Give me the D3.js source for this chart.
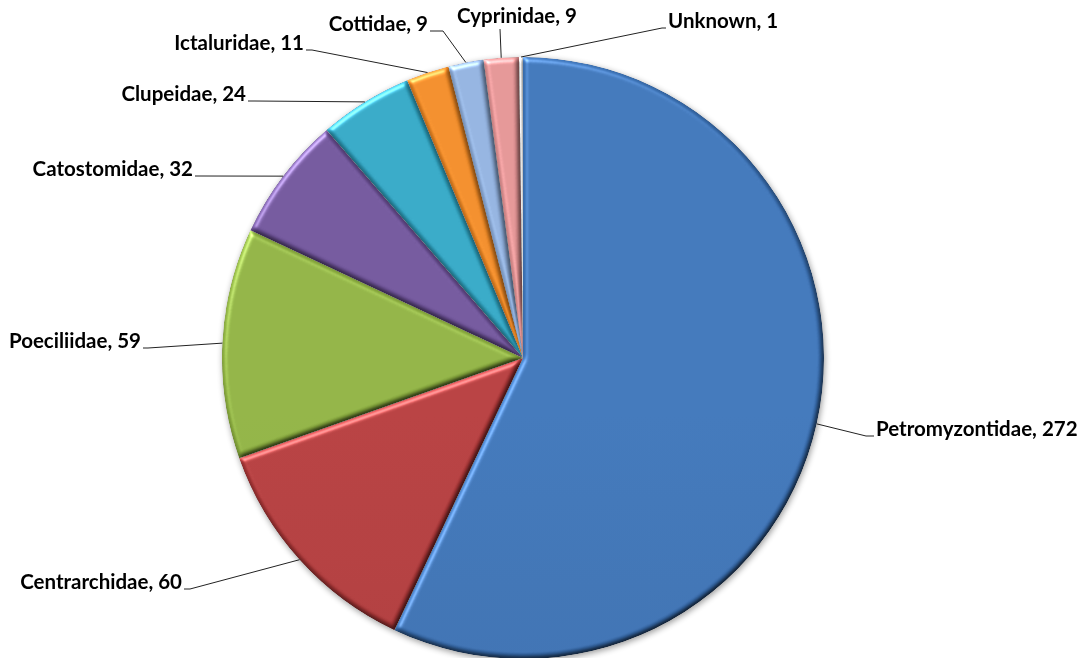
<!DOCTYPE html>
<html>
<head>
<meta charset="utf-8">
<script src="https://cdn.jsdelivr.net/npm/d3@7"></script>
<style>
  html, body { margin: 0; padding: 0; background: #fff; }
  svg { display: block; }
  .lbl { font-family: Lato, "Open Sans", sans-serif; font-weight: 700; font-size: 20.5px; fill: #000; }
</style>
</head>
<body>
<svg id="chart" width="1087" height="658"></svg>
<script>
// Fish families and counts, drawn clockwise from 12 o'clock
const families = ["Petromyzontidae", "Centrarchidae", "Poeciliidae", "Catostomidae",
                  "Clupeidae", "Ictaluridae", "Cottidae", "Cyprinidae", "Unknown"];
const counts   = [272, 60, 59, 32, 24, 11, 9, 9, 1];
const colors   = ["#3a72b8", "#b5393a", "#8db13f", "#6e5299", "#2fa6c4",
                  "#f28a23", "#8fb0de", "#e39192", "#dcdcdc"];

// Label text anchor points (where each leader line ends) and alignment
const labelPos = [
  { x: 874, y: 436, bend: 866, anchor: "start" },
  { x: 184, y: 589, bend: 190, anchor: "end" },
  { x: 143, y: 348, bend: 148, anchor: "end" },
  { x: 195, y: 176, bend: 200, anchor: "end" },
  { x: 248, y: 101, bend: 254, anchor: "end" },
  { x: 306, y: 50,  bend: 312, anchor: "end" },
  { x: 430, y: 31,  bend: 443, anchor: "end" },
  { x: 500, y: 29,  bend: 500, anchor: "middle", above: true },
  { x: 666, y: 28,  bend: 662, anchor: "start" }
];

const W = 1087, H = 658;
const cx = 523, cy = 358, R = 301;

const svg = d3.select("#chart");
const defs = svg.append("defs");

// soft drop shadow around the whole pie
const sh = defs.append("filter").attr("id", "shadow")
  .attr("color-interpolation-filters", "sRGB")
  .attr("x", "-10%").attr("y", "-10%").attr("width", "120%").attr("height", "120%");
sh.append("feGaussianBlur").attr("in", "SourceAlpha").attr("stdDeviation", 3).attr("result", "b");
sh.append("feOffset").attr("in", "b").attr("dx", 1).attr("dy", 2).attr("result", "o");
sh.append("feComponentTransfer").attr("in", "o").attr("result", "s")
  .append("feFuncA").attr("type", "linear").attr("slope", 0.4);
const shm = sh.append("feMerge");
shm.append("feMergeNode").attr("in", "s");
shm.append("feMergeNode").attr("in", "SourceGraphic");

// rounded bevel on each slice: highlight on lit edges, shade on the others
const bv = defs.append("filter").attr("id", "bevel")
  .attr("color-interpolation-filters", "sRGB")
  .attr("x", "-5%").attr("y", "-5%").attr("width", "110%").attr("height", "110%");
bv.append("feGaussianBlur").attr("in", "SourceAlpha").attr("stdDeviation", 2.5).attr("result", "blur");
const spec = bv.append("feSpecularLighting").attr("in", "blur")
  .attr("surfaceScale", 3).attr("specularConstant", 0.4).attr("specularExponent", 20)
  .attr("lighting-color", "#ffffff").attr("result", "spec");
spec.append("feDistantLight").attr("azimuth", 235).attr("elevation", 40);
bv.append("feComposite").attr("in", "spec").attr("in2", "SourceAlpha").attr("operator", "in").attr("result", "specIn");
const diff = bv.append("feDiffuseLighting").attr("in", "blur")
  .attr("surfaceScale", 3).attr("diffuseConstant", 1.0)
  .attr("lighting-color", "#ffffff").attr("result", "diff");
diff.append("feDistantLight").attr("azimuth", 235).attr("elevation", 60);
bv.append("feComposite").attr("in", "SourceGraphic").attr("in2", "diff")
  .attr("operator", "arithmetic").attr("k1", 1.08).attr("k2", 0).attr("k3", 0).attr("k4", 0).attr("result", "lit");
bv.append("feComposite").attr("in", "lit").attr("in2", "specIn")
  .attr("operator", "arithmetic").attr("k1", 0).attr("k2", 1).attr("k3", 1).attr("k4", 0).attr("result", "all");
bv.append("feComposite").attr("in", "all").attr("in2", "SourceAlpha").attr("operator", "in");

// vertical shading gradient per slice
colors.forEach((c, i) => {
  const g = defs.append("linearGradient").attr("id", "grad" + i)
    .attr("gradientUnits", "userSpaceOnUse")
    .attr("x1", 0).attr("y1", cy - R).attr("x2", 0).attr("y2", cy + R);
  g.append("stop").attr("offset", "0%").attr("stop-color", d3.color(c).brighter(0.05));
  g.append("stop").attr("offset", "100%").attr("stop-color", d3.color(c).darker(0.3));
});

const data = families.map((f, i) => ({ name: f, value: counts[i], i }));

const pie = d3.pie().value(d => d.value).sort(null);
const arcs = pie(data);
const arc = d3.arc().innerRadius(0).outerRadius(R);

const pieG = svg.append("g").attr("transform", `translate(${cx},${cy})`)
  .attr("filter", "url(#shadow)");

pieG.selectAll("path.slice").data(arcs).join("path")
  .attr("class", "slice")
  .attr("d", arc)
  .attr("fill", d => `url(#grad${d.data.i})`)
  .attr("filter", "url(#bevel)");

// leader lines from slice edge (mid-angle) to the label
const lines = svg.append("g");
arcs.forEach((a, k) => {
  const mid = (a.startAngle + a.endAngle) / 2;
  const sx = cx + R * Math.sin(mid);
  const sy = cy - R * Math.cos(mid);
  const p = labelPos[k];
  const pts = p.above ? [[sx, sy], [p.x, p.y]] : [[sx, sy], [p.bend, p.y], [p.x, p.y]];
  lines.append("path")
    .attr("d", d3.line()(pts))
    .attr("fill", "none").attr("stroke", "#222").attr("stroke-width", 1);

  const t = svg.append("text").attr("class", "lbl")
    .attr("text-anchor", p.anchor)
    .text(`${a.data.name}, ${a.data.value}`);
  if (p.above) {
    t.attr("x", p.x + 17).attr("y", p.y - 6);
  } else {
    const dx = p.anchor === "start" ? 2 : -2;
    t.attr("x", p.x + dx).attr("y", p.y - 5).attr("dominant-baseline", "middle");
  }
});
</script>
</body>
</html>
